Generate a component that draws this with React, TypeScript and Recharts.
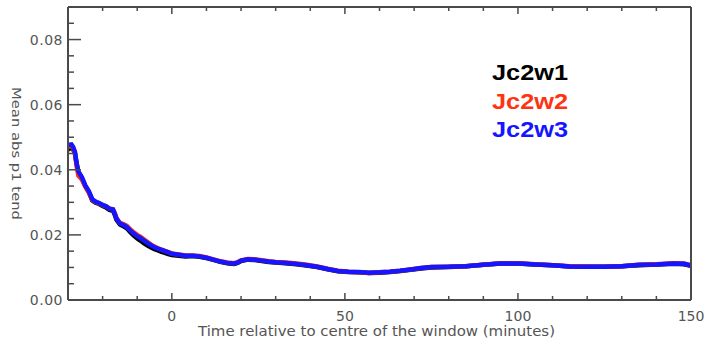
import { LineChart, Line, XAxis, YAxis } from "recharts";

// minutes relative to window centre
const times = [
  -30, -29, -28.5, -28, -27.5, -27, -26, -25, -24, -23, -22, -21, -20, -19, -18, -17, -16.5, -16, -15,
  -14, -13, -12, -11, -10, -9, -8, -7, -6, -5, -4, -3, -2, -1, 0, 2, 4, 6, 8, 10, 12, 14, 16, 18, 19,
  20, 22, 24, 26, 28, 30, 33, 36, 39, 42, 45, 48, 51, 54, 57, 60, 63, 66, 69, 72, 75, 80, 85, 90, 95,
  100, 105, 110, 115, 120, 125, 130, 135, 140, 145, 148, 150,
];

const w1 = [
  0.0462, 0.0468, 0.0462, 0.0450, 0.0418, 0.0392, 0.0374, 0.0350, 0.0332, 0.0306, 0.0299, 0.0295,
  0.0289, 0.0284, 0.0277, 0.0274, 0.0262, 0.0247, 0.0232, 0.0227, 0.0220, 0.0208, 0.0198, 0.0189,
  0.0182, 0.0174, 0.0167, 0.0161, 0.0156, 0.0152, 0.0148, 0.0145, 0.0141, 0.0138, 0.0136, 0.0134,
  0.0135, 0.0133, 0.0129, 0.0123, 0.0117, 0.0113, 0.0111, 0.0114, 0.0120, 0.0124, 0.0123, 0.0120,
  0.0117, 0.0115, 0.0113, 0.0110, 0.0106, 0.0101, 0.0094, 0.0088, 0.0086, 0.0085, 0.0083, 0.0084,
  0.0086, 0.0089, 0.0093, 0.0097, 0.0100, 0.0101, 0.0104, 0.0108, 0.0112, 0.0112, 0.0109, 0.0107,
  0.0103, 0.0102, 0.0102, 0.0104, 0.0107, 0.0109, 0.0111, 0.0110, 0.0105,
];

const w2 = [
  0.0470, 0.0474, 0.0466, 0.0452, 0.0410, 0.0382, 0.0370, 0.0348, 0.0330, 0.0308, 0.0301, 0.0297,
  0.0291, 0.0288, 0.0281, 0.0279, 0.0268, 0.0252, 0.0237, 0.0233, 0.0228, 0.0217, 0.0208, 0.0200,
  0.0194, 0.0186, 0.0178, 0.0170, 0.0164, 0.0159, 0.0155, 0.0151, 0.0147, 0.0143, 0.0140, 0.0137,
  0.0137, 0.0135, 0.0131, 0.0125, 0.0119, 0.0115, 0.0113, 0.0116, 0.0122, 0.0126, 0.0125, 0.0122,
  0.0119, 0.0117, 0.0115, 0.0112, 0.0108, 0.0103, 0.0096, 0.0090, 0.0087, 0.0085, 0.0083, 0.0085,
  0.0087, 0.0090, 0.0094, 0.0098, 0.0101, 0.0102, 0.0104, 0.0108, 0.0113, 0.0113, 0.0110, 0.0107,
  0.0104, 0.0102, 0.0102, 0.0104, 0.0108, 0.0110, 0.0113, 0.0112, 0.0106,
];

const w3 = [
  0.0476, 0.0478, 0.0470, 0.0455, 0.0420, 0.0395, 0.0378, 0.0352, 0.0335, 0.0310, 0.0302, 0.0298,
  0.0292, 0.0288, 0.0280, 0.0278, 0.0265, 0.0250, 0.0235, 0.0230, 0.0224, 0.0213, 0.0204, 0.0196,
  0.0190, 0.0182, 0.0175, 0.0168, 0.0162, 0.0158, 0.0154, 0.0150, 0.0146, 0.0142, 0.0139, 0.0136,
  0.0136, 0.0134, 0.0130, 0.0124, 0.0118, 0.0114, 0.0112, 0.0115, 0.0121, 0.0125, 0.0124, 0.0121,
  0.0118, 0.0116, 0.0114, 0.0111, 0.0107, 0.0102, 0.0095, 0.0089, 0.0087, 0.0086, 0.0084, 0.0085,
  0.0087, 0.0090, 0.0094, 0.0098, 0.0101, 0.0102, 0.0104, 0.0108, 0.0112, 0.0112, 0.0109, 0.0107,
  0.0103, 0.0102, 0.0102, 0.0104, 0.0108, 0.0109, 0.0112, 0.0111, 0.0106,
];

const series = [
  { key: "w1", name: "Jc2w1", color: "#000000", values: w1 },
  { key: "w2", name: "Jc2w2", color: "#ff3311", values: w2 },
  { key: "w3", name: "Jc2w3", color: "#1515ff", values: w3 },
];

const xTicks = [-30, -20, -10, 0, 10, 20, 30, 40, 50, 60, 70, 80, 90, 100, 110, 120, 130, 140, 150];
const xLabels = [0, 50, 100, 150];
const yTicks = [
  0, 0.005, 0.01, 0.015, 0.02, 0.025, 0.03, 0.035, 0.04, 0.045, 0.05, 0.055, 0.06, 0.065, 0.07,
  0.075, 0.08, 0.085, 0.09,
];
const yLabels = [0, 0.02, 0.04, 0.06, 0.08];

const xTitle = "Time relative to centre of the window (minutes)";
const yTitle = "Mean abs p1 tend";

const rows = times.map((t, i) => {
  const row: Record<string, number> = { t };
  series.forEach((s) => (row[s.key] = s.values[i]));
  return row;
});

const AXIS = "#4a4a4a";
const TEXT = "#555";
const FONT = "'DejaVu Sans', sans-serif";

// IDL style: ticks point into the plot, longer at labelled values
function bottomTick(p: any) {
  const x = Number(p.x);
  const y = Number(p.y);
  const major = xLabels.includes(p.payload.value);
  return (
    <g key={`b${p.index}`}>
      <line x1={x} x2={x} y1={y} y2={y - (major ? 7 : 4)} stroke={AXIS} strokeWidth={1.5} />
      {major && (
        <text x={x} y={y + 21} textAnchor="middle" fontSize={14} fontFamily={FONT} fill={TEXT}>
          {p.payload.value}
        </text>
      )}
    </g>
  );
}

function topTick(p: any) {
  const x = Number(p.x);
  const y = Number(p.y);
  const major = xLabels.includes(p.payload.value);
  return (
    <line key={`t${p.index}`} x1={x} x2={x} y1={y} y2={y + (major ? 7 : 4)} stroke={AXIS} strokeWidth={1.5} />
  );
}

function leftTick(p: any) {
  const x = Number(p.x);
  const y = Number(p.y);
  const major = yLabels.includes(p.payload.value);
  return (
    <g key={`l${p.index}`}>
      <line x1={x} x2={x + (major ? 13 : 6)} y1={y} y2={y} stroke={AXIS} strokeWidth={1.5} />
      {major && (
        <text x={x - 5} y={y + 5} textAnchor="end" fontSize={14} fontFamily={FONT} fill={TEXT} letterSpacing={0.5}>
          {p.payload.value.toFixed(2)}
        </text>
      )}
    </g>
  );
}

function rightTick(p: any) {
  const x = Number(p.x);
  const y = Number(p.y);
  const major = yLabels.includes(p.payload.value);
  return (
    <line key={`r${p.index}`} x1={x} x2={x - (major ? 13 : 6)} y1={y} y2={y} stroke={AXIS} strokeWidth={1.5} />
  );
}

function xTitleLabel(p: any) {
  const { x, width } = p.viewBox;
  return (
    <text
      x={x + width / 2 - 3}
      y={336}
      textAnchor="middle"
      fontSize={14}
      fontFamily={FONT}
      fill={TEXT}
      textLength={357}
      lengthAdjust="spacingAndGlyphs"
    >
      {xTitle}
    </text>
  );
}

function yTitleLabel(p: any) {
  const { y, height } = p.viewBox;
  const cy = y + height / 2;
  return (
    <text
      x={17}
      y={cy}
      transform={`rotate(90 17 ${cy})`}
      dy="0.35em"
      textAnchor="middle"
      fontSize={13}
      fontFamily={FONT}
      fill={TEXT}
      textLength={133}
      lengthAdjust="spacingAndGlyphs"
    >
      {yTitle}
    </text>
  );
}

function SeriesNames() {
  return (
    <div
      style={{
        position: "absolute",
        left: 492,
        top: 59,
        fontFamily: "'Liberation Sans', Arial, sans-serif",
        fontWeight: 700,
        fontSize: 22,
      }}
    >
      {series.map((s) => (
        <div
          key={s.key}
          style={{ color: s.color, lineHeight: "28.5px", transform: "scaleX(1.15)", transformOrigin: "left" }}
        >
          {s.name}
        </div>
      ))}
    </div>
  );
}

export default function App() {
  return (
    <div style={{ position: "fixed", left: 0, top: 0, width: 704, height: 345, background: "#fff" }}>
      <LineChart width={704} height={345} data={rows} margin={{ top: 6, right: 12, bottom: 0, left: 0 }}>
        <XAxis
          xAxisId="b"
          dataKey="t"
          type="number"
          domain={[-30, 150]}
          ticks={xTicks}
          interval={0}
          height={45}
          tickSize={0}
          tickMargin={0}
          tickLine={false}
          axisLine={{ stroke: AXIS, strokeWidth: 2 }}
          tick={bottomTick}
          label={xTitleLabel}
        />
        <XAxis
          xAxisId="t"
          dataKey="t"
          type="number"
          orientation="top"
          domain={[-30, 150]}
          ticks={xTicks}
          interval={0}
          height={1}
          tickSize={0}
          tickMargin={0}
          tickLine={false}
          axisLine={{ stroke: AXIS, strokeWidth: 2 }}
          tick={topTick}
        />
        <YAxis
          yAxisId="l"
          type="number"
          domain={[0, 0.09]}
          ticks={yTicks}
          interval={0}
          width={68}
          tickSize={0}
          tickMargin={0}
          tickLine={false}
          axisLine={{ stroke: AXIS, strokeWidth: 2 }}
          tick={leftTick}
          label={yTitleLabel}
        />
        <YAxis
          yAxisId="r"
          orientation="right"
          type="number"
          domain={[0, 0.09]}
          ticks={yTicks}
          interval={0}
          width={1}
          tickSize={0}
          tickMargin={0}
          tickLine={false}
          axisLine={{ stroke: AXIS, strokeWidth: 2 }}
          tick={rightTick}
        />
        {series.map((s) => (
          <Line
            key={s.key}
            xAxisId="b"
            yAxisId="l"
            dataKey={s.key}
            name={s.name}
            stroke={s.color}
            strokeWidth={4.5}
            dot={false}
            type="linear"
            isAnimationActive={false}
          />
        ))}
      </LineChart>
      <SeriesNames />
    </div>
  );
}
